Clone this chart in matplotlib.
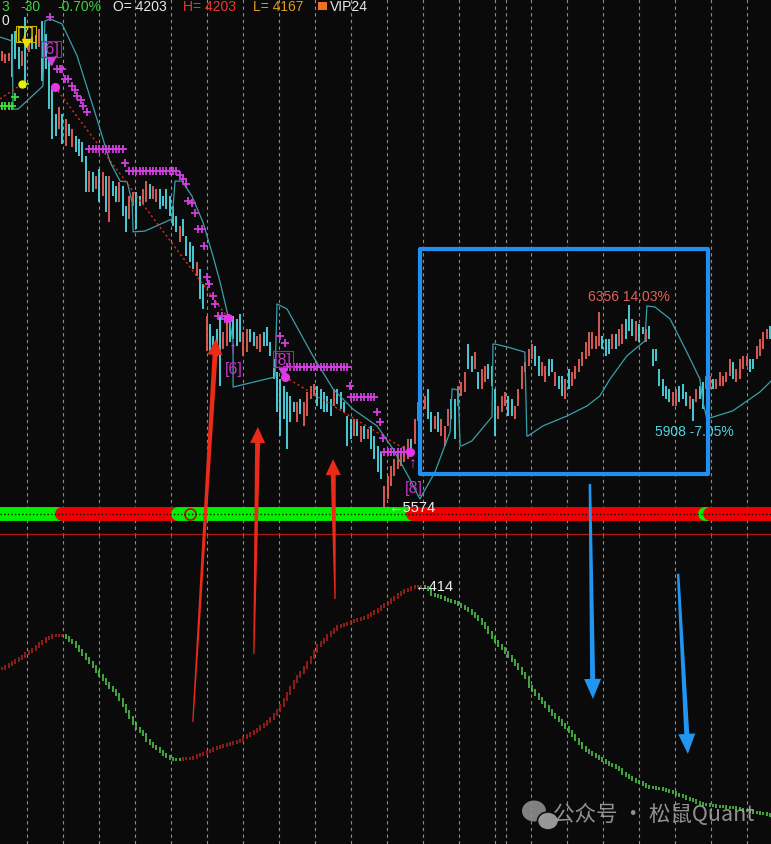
import matplotlib
matplotlib.use("Agg")
import matplotlib.pyplot as plt
import numpy as np
from matplotlib.patches import Polygon, Rectangle, Ellipse
from matplotlib.transforms import IdentityTransform

plt.rcParams['font.family'] = ['Liberation Sans', 'DejaVu Sans']

# ── Colours ───────────────────────────────────────────────
BG = "#0a0a0a"
UP = "#e8605a"
DOWN = "#4fdbe6"
TEAL = "#3a9fa9"
MAG = "#d23ee0"
GRID = "#8c8c8c"
IND_UP = "#b3221c"
IND_DN = "#52d24a"

# ── Price bars (open / close) ────────────────────────────
opens = [
    7297, 7289, 7297, 7401, 7412, 7351, 7277, 7467, 7331, 7389,
    7397, 7351, 7451, 7401, 7304, 7189, 7092, 7034, 7092, 6969,
    7054, 6965, 7007, 6996, 6984, 6930, 6791, 6868, 6803, 6880,
    6776, 6853, 6675, 6833, 6814, 6752, 6814, 6737, 6687, 6737,
    6791, 6776, 6745, 6752, 6822, 6764, 6752, 6803, 6776, 6803,
    6776, 6737, 6698, 6598, 6687, 6621, 6598, 6583, 6467, 6494,
    6436, 6177, 6281, 6235, 6262, 6312, 6185, 6197, 6289, 6312,
    6301, 6320, 6158, 6173, 6262, 6251, 6185, 6173, 6251, 6270,
    6212, 6146, 6096, 6069, 6042, 6019, 6004, 5980, 5903, 5992,
    5888, 5926, 5992, 6004, 6042, 6031, 6019, 6004, 5992, 5965,
    6031, 6019, 5980, 5926, 5915, 5849, 5915, 5826, 5888, 5838,
    5888, 5849, 5811, 5787, 5576, 5606, 5656, 5695, 5722, 5733,
    5749, 5760, 5838, 5818, 5907, 5942, 5953, 6031, 5942, 5876, 5942,
    5849, 5811, 5888, 5992, 5992, 5965, 6004, 6019, 6204, 6158,
    6108, 6096, 6031, 6058, 6127, 6119, 6031, 5915, 5942, 5965,
    6004, 5992, 5915, 5965, 6031, 6096, 6119, 6146, 6197, 6158,
    6081, 6058, 6146, 6146, 6042, 6081, 6081, 5992, 6108, 6042,
    6069, 6096, 6119, 6146, 6158, 6185, 6185, 6197, 6235, 6224,
    6224, 6185, 6243, 6197, 6204, 6301, 6356, 6301, 6216, 6281,
    6270, 6212, 6274, 6185, 6185, 6108, 6069, 6042, 6031, 5965,
    5965, 6042, 6050, 6019, 5953, 5992, 5980, 6042, 6058, 6031,
    6031, 6069, 6031, 6042, 6042, 6058, 6081, 6135, 6058, 6069,
    6108, 6119, 6146, 6146, 6146, 6158, 6185, 6224, 6274,
]
closes = [
    7335, 7324, 7328, 7235, 7304, 7266, 7335, 7196, 7382, 7343,
    7343, 7420, 7219, 7266, 7111, 6996, 7007, 7119, 6976, 7073,
    7007, 7034, 6945, 6930, 6907, 6791, 6872, 6791, 6853, 6752,
    6868, 6714, 6853, 6776, 6752, 6830, 6698, 6637, 6776, 6791,
    6648, 6737, 6803, 6833, 6764, 6814, 6803, 6725, 6737, 6725,
    6698, 6660, 6637, 6660, 6621, 6544, 6521, 6494, 6521, 6378,
    6339, 6312, 6177, 6177, 6158, 6042, 6251, 6289, 6212, 6224,
    6197, 6212, 6251, 6262, 6212, 6197, 6235, 6243, 6197, 6197,
    6158, 6069, 5942, 5849, 5915, 5799, 5903, 5942, 5980, 5934,
    5980, 6019, 6042, 6050, 5965, 5953, 5942, 5942, 5926, 6031,
    5973, 5953, 5942, 5811, 5838, 5915, 5849, 5888, 5838, 5876,
    5799, 5760, 5710, 5683, 5656, 5695, 5733, 5760, 5787, 5787,
    5811, 5838, 5787, 5915, 5980, 6004, 6004, 5915, 5865, 5926, 5865,
    5915, 5888, 5953, 5915, 5838, 6042, 6058, 6096, 6108, 6096,
    6173, 6031, 6108, 6119, 6069, 6042, 5849, 5965, 6004, 6019,
    5926, 5926, 5965, 6031, 6119, 6135, 6185, 6204, 6119, 6081,
    6135, 6119, 6081, 6096, 6096, 6031, 6004, 6069, 6031, 6096,
    6119, 6146, 6173, 6212, 6251, 6251, 6235, 6328, 6185, 6158,
    6166, 6243, 6185, 6262, 6281, 6224, 6254, 6235, 6293, 6212,
    6243, 6262, 6224, 6119, 6139, 6042, 6004, 5992, 5980, 6019,
    6031, 5980, 5992, 5965, 6004, 5908, 6031, 5992, 5953, 6081,
    6081, 6031, 6069, 6096, 6081, 6096, 6146, 6069, 6108, 6146,
    6158, 6158, 6096, 6108, 6197, 6224, 6251, 6262, 6224,
]

# stop / channel line (bar index, price)
stop_x = [-0.6, 3.0, 3.3, 4.8, 12.2, 12.8, 14.3, 17.9, 22.4, 28.3, 32.2, 35.2, 37.3,
          38.8, 39.1, 42.6, 50.7, 51.6, 53.7, 56.6, 59.9, 62.9, 65.0, 68.0, 68.9, 68.9,
          81.4, 82.0, 85.0, 92.7, 98.7, 104.6, 111.8, 116.6, 121.6, 124.6, 129.1, 133.6,
          134.2, 136.0, 136.6, 137.1, 140.1, 146.1, 146.4, 147.0, 150.6, 155.9, 156.5,
          156.8, 161.3, 168.4, 174.4, 178.3, 181.3, 186.3, 191.7, 192.3, 194.7, 199.2,
          204.2, 208.1, 209.0, 210.2, 217.9, 226.0, 229.3]
stop_y = [7389, 7374, 7111, 7111, 7200, 7451, 7459, 7440, 7316, 7073, 6907, 6833, 6830,
          6752, 6637, 6640, 6687, 6833, 6833, 6776, 6675, 6544, 6444, 6281, 6212, 6038,
          6077, 6359, 6339, 6158, 6031, 5953, 5888, 5799, 5683, 5606, 5710, 5865,
          6031, 6027, 5811, 5811, 5830, 5923, 6204, 6204, 6193, 6173, 5849,
          5849, 5888, 5926, 5965, 6004, 6069, 6158, 6216, 6351, 6347, 6301,
          6173, 6069, 5980, 5915, 5946, 6019, 6061]

# magenta "+" trailing stop marks
plus_single_x = [14.3, 16.4, 17.3, 17.9, 18.8, 19.7, 20.9, 21.8, 22.4, 23.6, 24.2, 25.3,
                 36.7, 53.1, 54.0, 54.9, 55.5, 56.6, 57.5, 58.4, 59.6, 60.2, 61.1, 61.7,
                 62.9, 63.5, 64.4, 65.6, 66.5, 82.9, 84.4, 103.8, 111.8, 112.7, 113.6]
plus_single_y = [7467, 7266, 7266, 7266, 7227, 7227, 7200, 7185, 7162, 7146, 7123, 7100,
                 6903, 6857, 6841, 6822, 6756, 6749, 6710, 6648, 6648, 6583, 6463, 6436,
                 6390, 6359, 6312, 6312, 6301, 6235, 6208, 6042, 5942, 5903, 5841]
plus_rows = [(26, 36, 6957), (38, 52, 6872), (85, 103, 6116), (104, 111, 6000), (114, 121, 5787)]

dot_x = [15.8, 67.4, 84.4, 121.6]
dot_y = [7196, 6305, 6077, 5787]
trend_segs = [((-0.6, 6.0), (7150, 7208)), ((15.8, 67.4), (7196, 6305)), ((84.4, 121.6), (6077, 5787))]

green_plus_x = [0, 1, 2, 3, 3.9, 6.9]
green_plus_y = [7123, 7123, 7123, 7123, 7158, 7208]

# signal strip (start, end, colour)
strip = [(-0.6, 17.9, "#00f000"), (17.9, 52.5, "#f00000"), (52.5, 122.5, "#00f000"),
         (122.5, 209.6, "#f00000"), (209.6, 211.0, "#00f000"), (211.0, 229.3, "#f00000")]
STRIP_Y = 5548
SEP_Y = 5471

# ── Lower indicator ──────────────────────────────────────
indicator = [
    332, 334, 336, 338, 340, 342, 344, 347, 349, 351, 354, 357, 359, 362, 363,
    365, 365, 365, 365, 363, 360, 358, 354, 350, 346, 342, 338, 334, 329, 325, 321, 317, 313,
    310, 306, 301, 295, 289, 283, 277, 272, 269, 266,
    260, 257, 254, 252, 249, 246, 244, 242, 241, 241, 241, 242, 242, 242, 243, 245, 246, 247,
    249, 250, 252, 253, 254, 255, 256, 257, 258, 259, 260,
    263, 265, 267, 269, 271, 274, 276, 279, 282, 286, 290, 295, 301, 307, 313, 319, 324, 328,
    333, 338, 343, 349, 355, 358, 361, 365, 368, 371,
    374, 375, 376, 377, 379, 380, 381, 382, 383, 385, 387, 389, 391, 394, 396, 398, 401, 403,
    406, 408, 410, 411, 413, 414, 414, 414, 413, 411,
    406, 405, 404, 403, 401, 400, 399, 398, 396, 394, 392, 390, 387, 384, 381, 377, 373, 368,
    363, 359, 355, 352, 348, 344, 340, 336, 332, 327, 323,
    314, 310, 306, 302, 298, 294, 290, 286, 283, 280, 276, 273, 269, 265, 261, 257, 253, 250,
    248, 246, 244, 242, 240, 238, 236, 235, 233, 231,
    227, 225, 223, 221, 219, 218, 216, 214, 213, 213, 212, 212, 211, 210, 209, 208, 206, 205,
    204, 202, 201, 200, 198, 197, 196, 196, 195, 195,
    194, 194, 194, 193, 193, 193, 192, 191, 190, 190, 189, 188, 188, 187, 187, 186, 185,
]

grid_x = [7.36 + 10.733 * k for k in range(22)] + [150.3]

# hand-drawn annotation arrows (tail, tip) in bar index / price
red_arrows = [((56.9, 4745), (63.8, 6224)), ((75.1, 5008), (76.3, 5884)), ((99.3, 5220), (98.7, 5760))]
blue_arrows = [((175.3, 5664), (176.2, 4834)), ((201.6, 5317), (204.5, 4622))]
box = (124.6, 5703, 210.5, 6571)

# ── Figure ───────────────────────────────────────────────
W, H = 771, 845
fig = plt.figure(figsize=(W / 100, H / 100), dpi=100, facecolor=BG)
ax_lo = fig.add_axes([0, 0, 1, 308 / H])
ax = fig.add_axes([0, 308 / H, 1, 537 / H])
ax.set_zorder(3)
for a in (ax, ax_lo):
    a.set_xlim(-0.6, 229.3)
    a.axis("off")
    for gx in grid_x:
        a.axvline(gx, color=GRID, lw=0.8, ls=(0, (3, 3)), zorder=0)
ax.set_ylim(5463, 7536)
ax_lo.set_ylim(156, 464)

o = np.array(opens)
c = np.array(closes)
n = len(o)
xs = np.arange(n)
cols = np.where(c >= o, UP, DOWN)
ax.vlines(xs, np.minimum(o, c), np.maximum(o, c), colors=cols, lw=1.3, zorder=2)

ax.plot(stop_x, stop_y, color=TEAL, lw=0.9, zorder=3)
for (sx, sy) in trend_segs:
    ax.plot(sx, sy, color="#d8321e", lw=1.0, ls=(0, (1.5, 2)), zorder=3)

px_ = list(plus_single_x)
py_ = list(plus_single_y)
for a0, a1, p in plus_rows:
    for j in range(a0, a1 + 1):
        px_.append(j)
        py_.append(p)
ax.plot(px_, py_, "+", color=MAG, ms=5.5, mew=1.3, zorder=4)
ax.plot(dot_x, dot_y, "o", color="#e436e8", ms=5.5, zorder=5)
ax.plot(green_plus_x, green_plus_y, "+", color="#3ee03a", ms=5.5, mew=1.3, zorder=4)
ax.plot([6.0], [7208], "o", color="#f0f000", ms=5, zorder=5)

# labels on the price panel
lab = dict(fontsize=11.5, ha="center", va="center", zorder=6)
ax.text(7.2, 7401, "[7]", color="#e8d400",
        bbox=dict(boxstyle="square,pad=0.05", fc="none", ec="#c8b800", lw=0.8), **lab)
ax.plot([7.2], [7366], "v", color="#f0e000", ms=5.5, zorder=6)
ax.text(14.6, 7343, "[6]", color="#c434c8",
        bbox=dict(boxstyle="square,pad=0.05", fc="none", ec="#a020a8", lw=0.8), **lab)
ax.plot([14.6], [7298], "v", color=MAG, ms=5.5, zorder=6)
ax.text(69.2, 6110, "[6]", color="#c434c8", **lab)
ax.text(68.9, 6192, "↑", color=MAG, **lab)
ax.text(83.8, 6146, "[8]", color="#c434c8",
        bbox=dict(boxstyle="square,pad=0.05", fc="none", ec="#a020a8", lw=0.8), **lab)
ax.plot([83.8], [6096], "v", color=MAG, ms=5.5, zorder=6)
ax.text(122.8, 5650, "[8]", color="#c434c8", **lab)
ax.text(122.5, 5747, "↑", color=MAG, **lab)

ax.text(115.1, 5576, "←5574", color="#f0f0f0", fontsize=10.5, ha="left", va="center", zorder=6)
ax.text(186.9, 6390, "6356 14.03%", color="#e0605a", fontsize=10, ha="center", va="center", zorder=6)
ax.text(206.6, 5868, "5908 -7.05%", color="#4fd4de", fontsize=10, ha="center", va="center", zorder=6)

# signal strip and separator
for x0, x1, col in strip:
    ax.plot([x0, x1], [STRIP_Y, STRIP_Y], color=col, lw=10, solid_capstyle="round", zorder=4)
ax.plot([56.0], [STRIP_Y], "o", mfc="none", mec="#d00000", ms=8, mew=1.2, zorder=4)
ax.plot([-0.6, 229.3], [STRIP_Y, STRIP_Y], color="#101010", lw=1.0, ls=(0, (1, 1.6)), zorder=5)
ax.axhline(SEP_Y, color="#b01818", lw=0.9, zorder=4)

ax.add_patch(Rectangle((box[0], box[1]), box[2] - box[0], box[3] - box[1], fill=False,
                       ec="#1f8ff0", lw=3, joinstyle="round", zorder=7))

# lower indicator sticks
v = np.array(indicator)
lo_col = []
prev = IND_UP
for i in range(len(v)):
    if i > 0 and v[i] > v[i - 1]:
        prev = IND_UP
    elif i > 0 and v[i] < v[i - 1]:
        prev = IND_DN
    lo_col.append(prev)
vprev = np.r_[v[0], v[:-1]]
ax_lo.vlines(np.arange(len(v)), np.minimum(v, vprev) - 1.5, np.maximum(v, vprev) + 1.5,
             colors=lo_col, lw=1.1, zorder=2)
ax_lo.text(123, 414, "←414", color="#f0f0f0", fontsize=10.5, ha="left", va="center", zorder=6)


def tapered_arrow(tail, tip, color, w_tail, w_shaft, head_w, head_len):
    p0 = ax.transData.transform(tail)
    p1 = ax.transData.transform(tip)
    d = p1 - p0
    u = d / np.hypot(*d)
    nrm = np.array([-u[1], u[0]])
    base = p1 - u * head_len
    pts = [p0 + nrm * w_tail / 2, base + nrm * w_shaft / 2, base + nrm * head_w / 2, p1,
           base - nrm * head_w / 2, base - nrm * w_shaft / 2, p0 - nrm * w_tail / 2]
    fig.add_artist(Polygon(pts, closed=True, transform=IdentityTransform(),
                           fc=color, ec="none", zorder=10))


for tail, tip in red_arrows:
    tapered_arrow(tail, tip, "#ec2a18", 1.2, 5, 15, 16)
for tail, tip in blue_arrows:
    tapered_arrow(tail, tip, "#2196f0", 2.5, 5, 17, 20)

# header line (kept fully inside the picture)
hdr = [(1, "3", "#3ed23e"), (20, "-30", "#3ed23e"), (57, "-0.70%", "#3ed23e"),
       (113, "O= 4203", "#e8e8e8"), (183, "H= 4203", "#e83a30"), (253, "L= 4167", "#e09a20"),
       (330, "VIP24", "#e8e8e8")]
for hx, txt, col in hdr:
    fig.text(hx / W, 1 - 7 / H, txt, color=col, fontsize=10, ha="left", va="center")
fig.patches.append(Rectangle((318 / W, 1 - 11 / H), 9 / W, 8 / H, transform=fig.transFigure,
                             fc="#f07020", ec="none"))
fig.text(1 / W, 1 - 21 / H, "0", color="#e8e8e8", fontsize=10, ha="left", va="center")

# watermark
fig.patches.append(Ellipse((534 / W, 1 - 812 / H), 24 / W, 21 / H, transform=fig.transFigure,
                           fc="#8e8e8e", ec="none", alpha=0.9))
fig.patches.append(Ellipse((548 / W, 1 - 822 / H), 21 / W, 18 / H, transform=fig.transFigure,
                           fc="#a0a0a0", ec=BG, lw=1.2, alpha=0.95))
fig.text(553 / W, 1 - 815 / H, "公众号 · 松鼠Quant", color="#a8a8a8", alpha=0.85,
         fontsize=15.5, ha="left", va="center", family=["Noto Sans CJK SC", "DejaVu Sans"])

fig.savefig("out.png", dpi=100, facecolor=BG)
